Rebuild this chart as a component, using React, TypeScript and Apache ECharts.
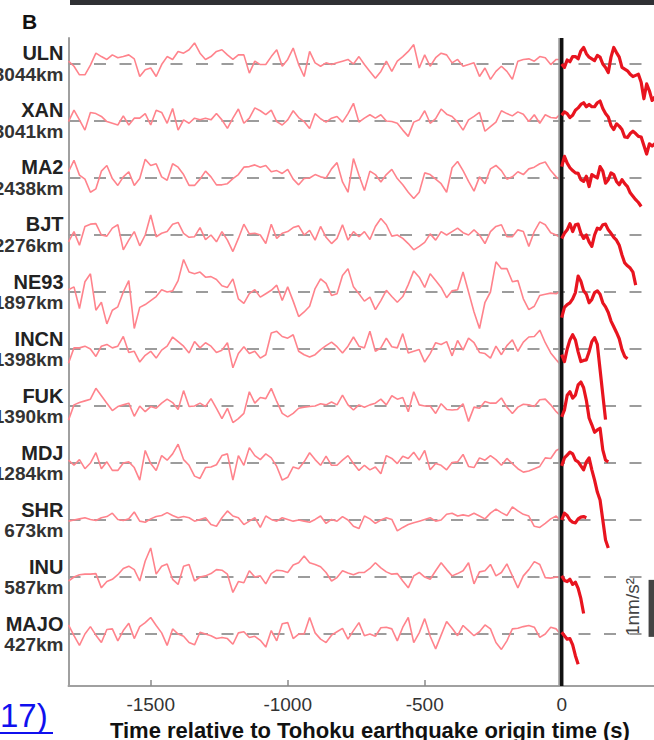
import React, { useEffect, useRef } from 'react';
import * as echarts from 'echarts';

// Stations (top to bottom) and epicentral distances
const stations = ['ULN', 'XAN', 'MA2', 'BJT', 'NE93', 'INCN', 'FUK', 'MDJ', 'SHR', 'INU', 'MAJO'];
const distances = ['3044km', '3041km', '2438km', '2276km', '1897km', '1398km', '1390km', '1284km', '673km', '587km', '427km'];

// Sampling of the traces (seconds relative to origin time)
const PRE_START = -1800;
const PRE_STEP = 20;
const POST_STEP = 10;
const X_MIN = -1800;
const X_MAX = 400;
const xTicks = [-1500, -1000, -500, 0];

// Pre-event noise (nm/s^2), one value every 20 s from -1800 s to 0 s
const preULN = [0.05,-0.04,-0.19,-0.19,-0.02,0.19,0.13,0.08,0.16,0.11,0.13,0.16,0.09,-0.22,-0.10,-0.07,-0.22,-0.01,0.13,0.08,0.22,0.19,0.25,0.37,0.19,0.08,0.13,0.22,0.25,0.16,0.08,0.16,0.16,-0.16,0.05,-0.01,-0.01,0.13,0.25,-0.04,0.08,0.28,-0.01,-0.22,0.22,0.02,-0.04,0.02,-0.01,0.02,0.05,0.08,0.0,0.13,-0.01,-0.13,-0.25,-0.13,0.05,-0.13,0.05,0.13,0.22,0.34,-0.07,0.16,-0.04,0.11,0.19,0.16,0.02,0.08,-0.04,-0.01,0.02,-0.22,-0.07,-0.27,-0.13,-0.04,-0.13,-0.27,0.05,0.08,0.09,0.05,0.13,0.11,-0.01,0.08,0.08];
const preXAN = [-0.01,0.19,0.02,-0.16,0.15,0.13,0.08,-0.01,-0.04,-0.07,0.09,-0.07,0.05,0.05,0.13,-0.07,0.19,0.15,-0.04,0.22,-0.16,0.02,-0.04,0.05,0.02,0.05,0.02,0.13,0.02,-0.13,0.05,0.21,-0.04,0.05,0.23,0.18,0.11,0.19,-0.01,-0.07,0.02,0.18,0.06,-0.01,-0.13,0.13,0.04,-0.02,0.05,0.08,-0.02,0.13,0.31,-0.02,0.05,0.11,0.05,0.11,0.0,-0.01,-0.04,-0.16,-0.27,-0.02,0.02,0.18,-0.04,0.04,0.21,0.12,0.08,-0.02,-0.16,0.02,0.08,0.15,-0.18,-0.10,-0.02,0.18,0.13,0.09,0.16,0.12,-0.01,0.11,-0.04,0.11,0.06,0.05,0.15];
const preMA2 = [0.11,0.31,0.05,-0.02,-0.25,-0.19,0.12,0.22,-0.01,-0.13,0.02,0.11,-0.13,-0.01,0.33,0.22,0.25,0.02,-0.04,0.25,0.19,0.06,-0.13,-0.13,-0.02,0.12,0.02,-0.12,-0.12,-0.10,-0.01,0.06,0.19,0.20,0.23,0.19,0.22,0.11,0.13,0.08,0.15,-0.02,-0.12,-0.01,0,0.06,0.02,0,0.16,0.27,-0.07,-0.25,0.34,0.05,-0.22,0.12,0.06,-0.07,0.06,0.15,-0.01,-0.12,-0.25,-0.36,-0.25,0.09,0.06,-0.02,-0.10,-0.25,0.18,0.29,0.13,-0.06,-0.23,0.02,-0.10,0.16,0.22,0.13,-0.02,0.02,0.11,0.06,0.16,0.19,0.25,0.28,0.13,0.02,-0.07];
const preBJT = [-0.12,0.06,-0.18,0.15,0.19,0.20,0,-0.02,0.12,0.18,-0.26,-0.09,0.06,-0.19,0,0.35,-0.03,0.03,0.06,0.19,0.22,0.03,-0.04,-0.03,0.13,-0.08,0,-0.12,0.06,-0.09,-0.29,-0.06,0.19,0.02,0.03,0,-0.15,0.19,-0.06,0.03,0.06,0.13,0.16,0,0.08,-0.09,0.15,-0.04,-0.15,-0.06,0.18,-0.09,0.06,-0.03,0.06,-0.08,0.15,0.29,0.18,-0.02,0,-0.06,-0.15,-0.26,-0.20,-0.13,0.02,-0.09,0.06,0,0.06,0.12,0.04,0,0.09,0,-0.15,0.06,0.15,0.18,-0.03,-0.03,0.09,0.06,-0.20,0.06,0.23,0.18,0.04,0,-0.06];
const preNE93 = [0.04,0.09,-0.29,0.18,0.32,-0.32,-0.18,-0.56,-0.32,-0.26,0,0.20,-0.64,-0.27,-0.22,-0.15,-0.08,0.04,0,0.02,0.20,0.57,0.35,0.32,0.35,0.26,0.27,0.22,0.11,0.08,0.23,-0.12,-0.20,-0.03,0.04,-0.09,-0.03,0.03,0.12,-0.15,0.09,-0.16,-0.43,-0.35,-0.25,0.06,0.23,0.15,-0.06,-0.03,0.29,0.41,0.09,-0.03,-0.16,-0.09,-0.31,-0.15,0.03,-0.08,-0.18,-0.08,0.13,0.37,0.26,0.08,0.32,0.20,0.08,-0.10,0.02,0.04,0.35,0,-0.35,-0.64,-0.18,0,0.53,0.41,0.41,0.18,0.20,-0.12,-0.31,-0.25,-0.06,-0.04,-0.02,-0.03,0.03];
const preINCN = [-0.25,0.02,0.02,0.05,0,-0.13,0.05,0.08,0.02,0.05,0.22,-0.06,-0.04,-0.23,-0.11,-0.04,-0.16,-0.02,0.05,0.21,0.13,0.05,-0.07,0.13,0.02,0.11,0.05,-0.06,-0.02,0.11,-0.33,-0.08,0.04,-0.08,-0.04,-0.16,-0.10,0.28,0.31,0.22,0.19,0.25,-0.04,-0.10,-0.14,-0.10,-0.01,0.06,0.12,0.04,-0.07,0.05,0.21,0.05,0.02,0.31,-0.04,0.02,0.19,0.04,0.02,0.27,-0.07,-0.04,-0.01,-0.23,-0.08,0.11,0.08,0.13,-0.12,0.15,-0.02,0.19,0.11,-0.06,-0.08,-0.16,0.05,-0.10,0.06,0.16,-0.04,0.12,0.21,0.22,0.33,0.11,-0.07,-0.19,-0.30];
const preFUK = [-0.25,0.02,0.06,0.09,0.12,0.31,0.18,0.05,-0.08,-0.01,0.02,0.05,-0.18,0,-0.10,-0.01,-0.04,0.05,0.12,0.06,-0.06,0.27,-0.01,0,0.05,-0.01,0.13,-0.04,-0.22,-0.04,-0.29,-0.22,-0.13,0.25,0.05,0.15,0.13,0.31,0.08,-0.13,-0.19,-0.13,-0.04,-0.02,-0.01,0,0.04,0.02,0.07,0.02,0.19,0.02,-0.07,0.02,-0.02,0.02,0.05,0.12,0.02,0.18,0.12,0.15,-0.10,0.25,0.02,0,0,-0.13,0.04,-0.06,-0.07,-0.06,0.04,-0.27,-0.02,-0.04,0.08,0.05,0.05,0.14,-0.02,-0.13,-0.02,0.03,0.02,-0.01,0.11,0.12,0.02,-0.10,-0.19];
const preMDJ = [0.05,-0.04,0.06,-0.10,0,0.18,-0.10,0.02,-0.13,-0.13,0,0.02,-0.08,-0.30,0.22,-0.01,-0.13,0.13,0.05,0.16,0.33,0.06,-0.04,-0.23,-0.27,-0.08,-0.07,-0.03,0.13,0.16,-0.30,0.13,-0.04,0.27,0.13,0.06,0.16,0.09,-0.06,-0.30,-0.25,-0.07,-0.10,0.02,0.18,0.06,-0.04,0.12,-0.04,-0.04,0.05,0.13,-0.01,-0.13,-0.04,-0.12,-0.07,-0.19,0.13,0.08,-0.01,0.12,0.08,0.19,0.05,0.22,-0.12,-0.01,-0.04,-0.12,0.01,0.02,0.15,-0.06,-0.08,0.09,0.05,0.13,0.06,-0.04,0.08,-0.01,-0.10,-0.16,-0.14,-0.10,-0.06,0.09,0.08,0.22,0.27];
const preSHR = [-0.02,0,0.02,0.04,0.01,-0.01,0.04,0.06,0.12,0.01,-0.01,0.02,0.14,-0.02,-0.04,0.02,0.06,0.08,0.13,0.08,0.04,0.06,0.04,-0.02,0.01,0.04,-0.08,-0.11,0.04,0.16,0.07,0.04,-0.08,-0.02,0.04,-0.13,0.07,0.01,-0.02,0.04,0.01,-0.02,0,-0.02,-0.04,0.01,0.07,-0.06,0.01,-0.02,0.06,0,-0.11,-0.15,0.07,0.02,-0.06,0,0.04,0.01,-0.19,-0.13,-0.08,-0.05,-0.02,0.01,0.04,-0.02,0,0.10,0.12,0.07,0.09,0.07,0.12,0.07,0.02,0.12,0.19,0.13,0.08,0.23,0.16,0.10,0.07,-0.11,-0.13,-0.06,0.02,0.07,-0.04];
const preINU = [-0.07,0,0.04,0.05,0.05,0.06,-0.19,-0.08,-0.04,0.04,0.15,0.19,0.13,-0.07,0.28,0.51,0.05,0.19,0.23,-0.04,-0.13,0.19,0.22,-0.07,0,0.02,0.06,0.13,0.12,0.05,-0.27,-0.08,-0.10,0.11,0,0.02,-0.12,0.06,0.12,0.11,0.08,0.21,0.25,0.37,0.25,0.22,0.18,0.08,-0.07,-0.01,0.11,0.07,0.04,0.08,0.08,0.15,0.25,0.16,0.09,0.05,0.06,-0.07,-0.19,0.02,0.08,0,-0.04,0.11,0.25,0.13,0.02,0.06,0.11,0.25,-0.12,0.09,0.11,0.22,0.02,0.08,0.23,0.02,-0.19,0.02,0.13,0.27,0.22,-0.01,-0.02,0,-0.01];
const preMAJO = [0.16,-0.03,-0.20,0,0.13,-0.02,-0.15,0.08,0.09,-0.12,0.06,0.19,-0.08,0.13,0.20,0.29,0.15,0.02,-0.20,0.09,0,-0.04,-0.15,-0.19,0.03,0,-0.03,-0.08,-0.06,-0.08,-0.18,0.02,0.04,-0.06,-0.04,-0.11,-0.23,0.06,-0.12,0.18,0.20,-0.08,0,0,0.29,0.02,-0.09,-0.15,-0.02,0.04,0.10,-0.09,0.06,0.20,-0.03,0,-0.04,0.11,0.12,0.09,-0.12,0.12,0.29,-0.15,0.02,0.27,-0.04,-0.26,-0.02,0.22,0.10,-0.03,0.15,0.06,-0.03,0.04,0.16,0.09,-0.15,-0.27,-0.12,0.09,0.10,0.13,0.15,0.12,-0.06,0,0.12,0.09,-0.03];

// Post-event signal (nm/s^2), one value every 10 s from 0 s to the P-wave arrival
const postULN = [0,-0.06,0.07,0.04,0.13,0.13,0.09,0.23,0.29,0.18,0.12,0.09,0.06,0.15,0.12,0,-0.06,-0.15,0.12,0.29,0.2,0.12,-0.06,-0.09,-0.12,-0.18,-0.22,-0.2,-0.18,-0.32,-0.61,-0.35,-0.47,-0.64,-0.58,-0.7];
const postXAN = [0.1,0.16,0.13,0.06,0.1,0.19,0.23,0.29,0.32,0.25,0.29,0.25,0.25,0.32,0.35,0.22,0.13,0.07,-0.08,-0.15,-0.05,-0.09,-0.15,-0.28,-0.29,-0.22,-0.18,-0.22,-0.27,-0.28,-0.43,-0.58,-0.4,-0.44,-0.4,-0.5];
const postMA2 = [0.2,0.38,0.26,0.18,0.13,0.09,0.08,-0.03,-0.06,0.03,-0.15,0.06,0.03,0,0.2,0.12,-0.09,-0.03,0.09,0.06,-0.06,-0.12,-0.03,-0.1,-0.15,-0.26,-0.32,-0.38,-0.43,-0.5];
const postBJT = [-0.06,0.03,0.09,0.2,0.06,0.18,0.19,0.03,-0.06,0,-0.12,-0.2,0,0.12,0.1,0.18,0.19,0.09,0.03,-0.04,-0.09,-0.18,-0.35,-0.49,-0.54,-0.58,-0.65,-0.88];
const postNE93 = [-0.45,-0.27,-0.22,-0.19,-0.12,-0.01,0.28,0.19,0.02,-0.04,-0.19,-0.13,-0.01,0.02,-0.04,-0.19,-0.26,-0.36,-0.51,-0.61,-0.71,-0.82,-1.01,-1.13,-1.17];
const postINCN = [-0.1,-0.22,0,0.16,0.25,0.16,-0.05,-0.22,-0.2,-0.19,-0.05,0.13,0.2,0.08,-0.36,-0.8,-1.24];
const postFUK = [-0.19,-0.07,0.19,0.25,0.14,0.19,0.37,0.42,0.32,0.1,-0.21,-0.33,-0.46,-0.42,-0.39,-0.77,-0.95,-0.98];
const postMDJ = [-0.05,0.09,0.14,0.19,0.16,0.05,0.02,-0.05,-0.12,0.02,0.09,-0.12,-0.3,-0.51,-0.65,-1.0,-1.35,-1.49];
const postSHR = [0,0.12,0.08,0,-0.04,-0.05,0.02,0.05,0.06,0.04];
const postINU = [0.02,-0.06,-0.08,-0.04,-0.13,-0.09,-0.2,-0.38,-0.64];
const postMAJO = [0.03,-0.03,-0.09,-0.08,-0.19,-0.38,-0.53];

const preTraces = [preULN, preXAN, preMA2, preBJT, preNE93, preINCN, preFUK, preMDJ, preSHR, preINU, preMAJO];
const postTraces = [postULN, postXAN, postMA2, postBJT, postNE93, postINCN, postFUK, postMDJ, postSHR, postINU, postMAJO];

// Scale bar: 1 nm/s^2
const scaleBarTime = 328;
const scaleBarRange = [-9.05, -10.05];

const Y_MAX = 0.456;
const Y_MIN = -10.912;
const FONT = 'Liberation Sans, Arial, Helvetica, sans-serif';

export default function App() {
  const ref = useRef<HTMLDivElement>(null);
  useEffect(() => {
    if (!ref.current) return;
    document.body.style.margin = '0';
    const chart = echarts.init(ref.current, undefined, { renderer: 'svg' });

    const baselineSeries = stations.map((_, i) => ({
      type: 'line',
      data: [[X_MIN, -i], [X_MAX, -i]],
      symbol: 'none',
      silent: true,
      z: 1,
      lineStyle: { color: '#9c9c9c', width: 2, type: [12, 13.5] },
    }));
    const preSeries = preTraces.map((vals, i) => ({
      type: 'line',
      name: stations[i] + ' pre',
      data: vals.map((v, k) => [PRE_START + k * PRE_STEP, v - i]),
      symbol: 'none',
      silent: true,
      z: 3,
      lineStyle: { color: '#ff838c', width: 1.6 },
    }));
    const postSeries = postTraces.map((vals, i) => ({
      type: 'line',
      name: stations[i] + ' post',
      data: vals.map((v, k) => [k * POST_STEP, v - i]),
      symbol: 'none',
      silent: true,
      z: 6,
      lineStyle: { color: '#e8141f', width: 3.2, join: 'round' },
    }));

    const option: any = {
      animation: false,
      backgroundColor: '#ffffff',
      grid: { left: 68.5, top: 38, width: 602.8, height: 648, containLabel: false, outerBoundsMode: 'none' },
      xAxis: {
        type: 'value',
        min: X_MIN,
        max: X_MAX,
        splitLine: { show: false },
        axisLine: { show: true, onZero: false, lineStyle: { color: '#a0a0a0', width: 2 } },
        axisTick: { show: true, inside: true, length: 6, customValues: xTicks, lineStyle: { color: '#8a8a8a', width: 1.5 } },
        axisLabel: { customValues: xTicks, fontSize: 19, color: '#333', margin: 9, fontFamily: FONT, formatter: (v: number) => String(v) },
        name: 'Time relative to Tohoku earthquake origin time (s)',
        nameLocation: 'middle',
        nameGap: 33,
        nameTextStyle: { fontSize: 22, fontWeight: 'bold', color: '#111', fontFamily: FONT },
      },
      yAxis: {
        type: 'value',
        min: Y_MIN,
        max: Y_MAX,
        splitLine: { show: false },
        axisLine: { show: true, onZero: false, lineStyle: { color: '#a0a0a0', width: 2 } },
        axisTick: { show: false },
        axisLabel: {
          customValues: stations.map((_, i) => -i),
          margin: 5,
          formatter: (v: number) => {
            const i = Math.round(-v);
            return `{n|${stations[i]}}\n{d|${distances[i]}}`;
          },
          rich: {
            n: { fontSize: 20, fontWeight: 'bold', color: '#222', lineHeight: 21, align: 'right', fontFamily: FONT },
            d: { fontSize: 19, fontWeight: 'bold', color: '#333', lineHeight: 21, align: 'right', fontFamily: FONT },
          },
        },
      },
      series: [
        ...baselineSeries,
        ...preSeries,
        {
          type: 'line',
          data: [[-8, Y_MAX], [-8, Y_MIN]],
          symbol: 'none',
          silent: true,
          z: 4,
          lineStyle: { color: '#999', width: 2.5 },
        },
        {
          type: 'line',
          data: [[0, Y_MAX], [0, Y_MIN]],
          symbol: 'none',
          silent: true,
          z: 5,
          lineStyle: { color: '#111', width: 3.5 },
        },
        ...postSeries,
        {
          type: 'line',
          data: [[scaleBarTime, scaleBarRange[0]], [scaleBarTime, scaleBarRange[1]]],
          symbol: 'none',
          silent: true,
          z: 6,
          lineStyle: { color: '#444', width: 6, cap: 'butt' },
        },
      ],
      graphic: [
        { type: 'rect', shape: { x: 70, y: 0, width: 600, height: 5 }, style: { fill: '#2f3034' } },
        { type: 'text', x: 29.5, y: 21, style: { text: 'B', font: `bold 21px ${FONT}`, fill: '#111', align: 'center', verticalAlign: 'middle' } },
        { type: 'text', x: 0, y: 715, style: { text: '17)', font: `33px ${FONT}`, fill: '#1010ee', align: 'left', verticalAlign: 'middle' } },
        { type: 'rect', shape: { x: 0, y: 732, width: 53, height: 2 }, style: { fill: '#1010ee' } },
        { type: 'text', x: 632, y: 607, rotation: Math.PI / 2, style: { text: '1nm/s²', font: `19px ${FONT}`, fill: '#444', align: 'center', verticalAlign: 'middle' } },
      ],
    };
    chart.setOption(option);
    return () => chart.dispose();
  }, []);

  return (
    <div style={{ position: 'fixed', left: 0, top: 0, width: 654, height: 740, overflow: 'hidden', background: '#fff' }}>
      <div ref={ref} style={{ width: 700, height: 740 }} />
    </div>
  );
}
